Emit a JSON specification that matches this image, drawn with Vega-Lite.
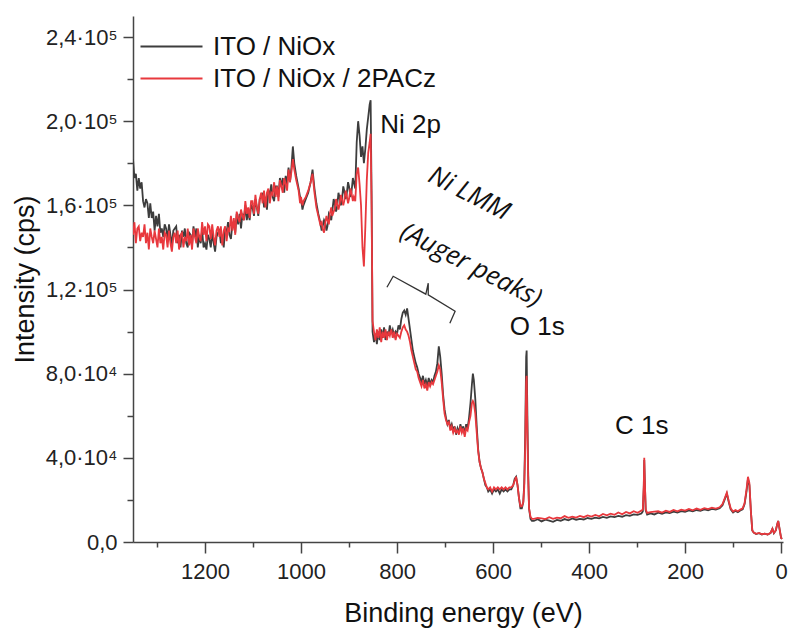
{
"$schema": "https://vega.github.io/schema/vega-lite/v6.json",
"width": 650, "height": 526,
"autosize": {"type": "none"},
"padding": {"left": 133, "top": 16, "right": 9, "bottom": 86},
"background": "white",
"config": {"view": {"stroke": null}, "font": "Liberation Sans",
 "axis": {"domainColor": "#444", "domainWidth": 1.5, "tickColor": "#444", "tickWidth": 1.5, "labelFont": "Liberation Sans", "labelFontSize": 22, "labelColor": "#222", "titleFont": "Liberation Sans", "titleFontSize": 27, "titleFontWeight": "normal", "titleColor": "#111", "grid": false}},
"datasets": {
"xps": [
{"E":1350,"a":182000,"b":146000},{"E":1347,"a":173000,"b":152000},{"E":1344,"a":175000,"b":142000},{"E":1341,"a":167000,"b":149000},{"E":1338,"a":173000,"b":150000},{"E":1335,"a":168000,"b":143000},{"E":1332,"a":171000,"b":147000},{"E":1329,"a":162000,"b":145000},{"E":1326,"a":159000,"b":151000},{"E":1323,"a":163000,"b":142000},{"E":1320,"a":161000,"b":147000},{"E":1317,"a":154000,"b":139000},{"E":1314,"a":161000,"b":149000},{"E":1311,"a":154000,"b":145000},{"E":1308,"a":157000,"b":142000},{"E":1305,"a":148000,"b":148000},{"E":1302,"a":155000,"b":144000},{"E":1299,"a":150000,"b":140000},{"E":1296,"a":156000,"b":149000},{"E":1293,"a":147000,"b":142000},{"E":1290,"a":149000,"b":145000},{"E":1287,"a":145000,"b":139000},{"E":1284,"a":151000,"b":147000},{"E":1281,"a":149000,"b":146000},{"E":1278,"a":144000,"b":140000},{"E":1275,"a":151000,"b":148000},{"E":1272,"a":146000,"b":142000},{"E":1269,"a":141000,"b":138000},{"E":1266,"a":148000,"b":145000},{"E":1263,"a":149000,"b":147000},
{"E":1260,"a":150000,"b":142000},{"E":1257,"a":142000,"b":148000},{"E":1254,"a":146000,"b":139000},{"E":1251,"a":140000,"b":146000},{"E":1248,"a":148000,"b":147000},{"E":1245,"a":145000,"b":140000},{"E":1242,"a":149000,"b":145000},{"E":1239,"a":142000,"b":143000},{"E":1236,"a":140000,"b":149000},{"E":1233,"a":147000,"b":141000},{"E":1230,"a":146000,"b":146000},{"E":1227,"a":141000,"b":139000},{"E":1224,"a":150000,"b":149000},{"E":1221,"a":145000,"b":145000},{"E":1218,"a":149000,"b":142000},{"E":1215,"a":140000,"b":149000},{"E":1212,"a":146000,"b":145000},{"E":1209,"a":142000,"b":143000},{"E":1206,"a":148000,"b":152000},{"E":1203,"a":140000,"b":146000},{"E":1200,"a":142000,"b":150000},{"E":1197,"a":139000,"b":143000},{"E":1194,"a":146000,"b":151000},{"E":1191,"a":144000,"b":150000},{"E":1188,"a":140000,"b":144000},{"E":1185,"a":147000,"b":151000},{"E":1182,"a":142000,"b":145000},{"E":1179,"a":138000,"b":141000},{"E":1176,"a":145000,"b":148000},{"E":1173,"a":147000,"b":150000},
{"E":1170,"a":148000,"b":145000},{"E":1167,"a":142000,"b":150000},{"E":1164,"a":146000,"b":141000},{"E":1161,"a":140000,"b":148000},{"E":1158,"a":149000,"b":150000},{"E":1155,"a":147000,"b":143000},{"E":1152,"a":152000,"b":149000},{"E":1149,"a":146000,"b":148000},{"E":1146,"a":144000,"b":155000},{"E":1143,"a":151000,"b":148000},{"E":1140,"a":151000,"b":154000},{"E":1137,"a":147000,"b":146000},{"E":1134,"a":156000,"b":157000},{"E":1131,"a":151000,"b":154000},{"E":1128,"a":156000,"b":152000},{"E":1125,"a":149000,"b":158000},{"E":1122,"a":156000,"b":155000},{"E":1119,"a":153000,"b":153000},{"E":1116,"a":160000,"b":162000},{"E":1113,"a":153000,"b":156000},{"E":1110,"a":157000,"b":159000},{"E":1107,"a":153000,"b":154000},{"E":1104,"a":160000,"b":162000},{"E":1101,"a":159000,"b":162000},{"E":1098,"a":155000,"b":156000},{"E":1095,"a":163000,"b":165000},{"E":1092,"a":159000,"b":159000},{"E":1089,"a":155000,"b":156000},{"E":1086,"a":163000,"b":163000},{"E":1083,"a":164000,"b":166000},
{"E":1080,"a":166000,"b":161000},{"E":1077,"a":159000,"b":167000},{"E":1074,"a":164000,"b":159000},{"E":1071,"a":158000,"b":166000},{"E":1068,"a":167000,"b":168000},{"E":1065,"a":165000,"b":161000},{"E":1062,"a":170000,"b":166000},{"E":1059,"a":164000,"b":165000},{"E":1056,"a":162000,"b":171000},{"E":1053,"a":169000,"b":164000},{"E":1050,"a":169000,"b":169000},{"E":1047,"a":164000,"b":162000},{"E":1044,"a":173000,"b":172000},{"E":1041,"a":169000,"b":169000},{"E":1038,"a":173000,"b":166000},{"E":1035,"a":166000,"b":173000},{"E":1032,"a":174000,"b":170000},{"E":1029,"a":170000,"b":167000},{"E":1026,"a":178000,"b":177000},{"E":1023,"a":171000,"b":171000},
{"E":1020,"a":178000,"b":176000},{"E":1017,"a":188000,"b":182000},{"E":1014,"a":180000,"b":177000},{"E":1010,"a":174000,"b":172000},{"E":1005,"a":168000,"b":167000},{"E":1002,"a":164000,"b":161000},{"E":1000,"a":163000,"b":164000},{"E":997,"a":158000,"b":160000},{"E":995,"a":160000,"b":162000},{"E":990,"a":163000,"b":164000},{"E":985,"a":166000,"b":167000},{"E":980,"a":171000,"b":171000},{"E":976,"a":177000,"b":175000},{"E":972,"a":168000,"b":166000},{"E":968,"a":161000,"b":159000},{"E":964,"a":156000,"b":155000},{"E":960,"a":152000,"b":151000},{"E":957,"a":148000,"b":152000},{"E":955,"a":150000,"b":149000},{"E":952,"a":153000,"b":147000},{"E":950,"a":152000,"b":151000},{"E":947,"a":148000,"b":155000},{"E":945,"a":150000,"b":153000},{"E":942,"a":156000,"b":151000},{"E":940,"a":155000,"b":156000},{"E":937,"a":153000,"b":159000},{"E":935,"a":157000,"b":155000},{"E":932,"a":163000,"b":157000},{"E":930,"a":161000,"b":158000},{"E":927,"a":157000,"b":163000},{"E":925,"a":159000,"b":161000},{"E":922,"a":166000,"b":158000},{"E":920,"a":164000,"b":160000},{"E":917,"a":160000,"b":165000},{"E":915,"a":162000,"b":163000},{"E":912,"a":169000,"b":160000},{"E":910,"a":167000,"b":162000},{"E":907,"a":163000,"b":167000},{"E":905,"a":165000,"b":165000},{"E":902,"a":171000,"b":161000},{"E":900,"a":169000,"b":163000},{"E":897,"a":164000,"b":168000},{"E":895,"a":166000,"b":166000},{"E":892,"a":173000,"b":162000},{"E":890,"a":171000,"b":164000},{"E":887,"a":168000,"b":162000},{"E":884,"a":190000,"b":175000},{"E":881,"a":200000,"b":178000},{"E":878,"a":193000,"b":170000},{"E":875,"a":183000,"b":160000},{"E":872,"a":188000,"b":140000},{"E":869,"a":180000,"b":131000},{"E":866,"a":187000,"b":150000},{"E":863,"a":196000,"b":172000},{"E":860,"a":202000,"b":185000},{"E":857,"a":208000,"b":190000},{"E":855,"a":210000,"b":194000},{"E":853,"a":165000,"b":160000},{"E":851,"a":100000,"b":105000},
{"E":848,"a":95000,"b":100000},{"E":845,"a":99000,"b":96000},{"E":842,"a":94000,"b":101000},{"E":839,"a":100000,"b":97000},{"E":836,"a":96000,"b":102000},{"E":833,"a":101000,"b":95000},{"E":830,"a":97000,"b":100000},{"E":827,"a":102000,"b":97000},{"E":824,"a":96000,"b":101000},{"E":821,"a":100000,"b":96000},{"E":818,"a":98000,"b":100000},{"E":815,"a":103000,"b":98000},{"E":812,"a":99000,"b":101000},{"E":809,"a":101000,"b":97000},{"E":806,"a":98000,"b":100000},{"E":803,"a":100000,"b":96000},{"E":800,"a":99000,"b":99000},{"E":797,"a":103000,"b":98000},{"E":794,"a":101000,"b":97000},{"E":791,"a":106000,"b":100000},{"E":788,"a":109000,"b":102000},{"E":785,"a":110000,"b":103000},{"E":782,"a":108000,"b":101000},{"E":779,"a":111000,"b":100000},{"E":776,"a":106000,"b":98000},{"E":773,"a":101000,"b":95000},{"E":770,"a":96000,"b":91000},{"E":767,"a":91000,"b":88000},{"E":764,"a":88000,"b":85000},{"E":761,"a":85000,"b":82000},{"E":758,"a":83000,"b":81000},{"E":755,"a":80000,"b":78000},{"E":752,"a":78000,"b":76000},{"E":749,"a":76000,"b":74000},{"E":746,"a":79000,"b":77000},{"E":743,"a":75000,"b":73000},{"E":740,"a":77000,"b":75000},{"E":737,"a":74000,"b":72000},{"E":734,"a":78000,"b":76000},{"E":731,"a":75000,"b":74000},{"E":728,"a":77000,"b":76000},{"E":725,"a":76000,"b":75000},{"E":722,"a":79000,"b":77000},{"E":719,"a":81000,"b":79000},{"E":716,"a":85000,"b":81000},{"E":713,"a":93000,"b":84000},{"E":710,"a":88000,"b":82000},{"E":707,"a":80000,"b":76000},{"E":704,"a":70000,"b":68000},{"E":701,"a":63000,"b":61000},{"E":698,"a":59000,"b":58000},{"E":695,"a":56000,"b":56000},{"E":692,"a":58000,"b":57000},{"E":689,"a":54000,"b":53000},{"E":686,"a":56000,"b":55000},{"E":683,"a":53000,"b":52000},{"E":680,"a":55000,"b":54000},{"E":677,"a":51000,"b":52000},{"E":674,"a":54000,"b":53000},{"E":671,"a":52000,"b":51000},{"E":668,"a":56000,"b":55000},{"E":665,"a":53000,"b":52000},{"E":662,"a":55000,"b":54000},{"E":659,"a":51000,"b":50000},{"E":656,"a":56000,"b":54000},{"E":653,"a":54000,"b":53000},{"E":650,"a":59000,"b":57000},{"E":647,"a":66000,"b":60000},{"E":644,"a":75000,"b":66000},{"E":642,"a":80000,"b":67000},{"E":640,"a":77000,"b":66000},{"E":637,"a":68000,"b":61000},{"E":634,"a":55000,"b":52000},{"E":631,"a":44000,"b":43000},{"E":628,"a":38000,"b":38000},{"E":625,"a":35000,"b":35000},{"E":622,"a":33000,"b":33000},{"E":619,"a":30000,"b":30000},{"E":616,"a":27000,"b":28000},{"E":613,"a":26000,"b":26000},{"E":610,"a":24000,"b":25000},{"E":606,"a":25000,"b":26000},{"E":602,"a":23000,"b":24000},{"E":598,"a":25000,"b":26000},{"E":594,"a":24000,"b":25000},{"E":590,"a":25000,"b":26000},{"E":586,"a":23000,"b":25000},{"E":582,"a":25000,"b":26000},{"E":578,"a":24000,"b":25000},{"E":574,"a":25000,"b":26000},{"E":570,"a":24000,"b":25000},{"E":566,"a":25000,"b":26000},{"E":562,"a":25000,"b":26000},{"E":558,"a":27000,"b":27000},{"E":555,"a":30000,"b":29000},{"E":552,"a":31000,"b":31000},{"E":549,"a":27000,"b":27000},{"E":546,"a":21000,"b":21000},{"E":543,"a":16000,"b":17000},{"E":540,"a":16000,"b":17000},{"E":537,"a":19000,"b":19000},{"E":535,"a":28000,"b":26000},{"E":533,"a":50000,"b":45000},{"E":531,"a":88000,"b":76000},{"E":530,"a":91000,"b":79000},{"E":529,"a":70000,"b":60000},{"E":527,"a":35000,"b":32000},{"E":525,"a":16000,"b":16000},{"E":522,"a":11000,"b":12000},{"E":519,"a":10000,"b":11000},
{"E":515,"a":10000,"b":11000},{"E":507,"a":10800,"b":11500},{"E":499,"a":9800,"b":11200},{"E":491,"a":10600,"b":10900},{"E":483,"a":10200,"b":11800},{"E":475,"a":9600,"b":11000},{"E":467,"a":10500,"b":11600},{"E":459,"a":10100,"b":11300},{"E":451,"a":10900,"b":12300},{"E":443,"a":10300,"b":11500},{"E":435,"a":11200,"b":12000},{"E":427,"a":10600,"b":11600},{"E":419,"a":11000,"b":12400},{"E":411,"a":10700,"b":11800},{"E":403,"a":11400,"b":12600},{"E":395,"a":11000,"b":12100},{"E":387,"a":11600,"b":12900},{"E":379,"a":11200,"b":12200},{"E":371,"a":11900,"b":13300},{"E":363,"a":11500,"b":12700},{"E":355,"a":12200,"b":13500},{"E":347,"a":11800,"b":12900},{"E":339,"a":12400,"b":14000},{"E":331,"a":12000,"b":13200},{"E":323,"a":12800,"b":14300},{"E":315,"a":12400,"b":13600},{"E":307,"a":13100,"b":14600},{"E":299,"a":12900,"b":13900},{"E":291,"a":13500,"b":14900},{"E":288,"a":14500,"b":15500},{"E":286,"a":26000,"b":27000},{"E":285,"a":39000,"b":40000},{"E":284,"a":30000,"b":30000},{"E":282,"a":15000,"b":15500},{"E":279,"a":13000,"b":13800},
{"E":272,"a":13600,"b":14200},{"E":264,"a":13100,"b":14400},{"E":256,"a":13900,"b":14600},{"E":248,"a":13400,"b":14000},{"E":240,"a":14100,"b":14900},{"E":232,"a":13700,"b":14300},{"E":224,"a":14400,"b":15200},{"E":216,"a":14000,"b":14600},{"E":208,"a":14700,"b":15400},{"E":200,"a":14300,"b":14900},{"E":192,"a":15000,"b":15700},{"E":184,"a":14600,"b":15100},{"E":176,"a":15200,"b":15900},{"E":168,"a":14800,"b":15300},{"E":160,"a":15500,"b":16100},{"E":152,"a":15100,"b":15600},{"E":144,"a":15700,"b":16300},{"E":136,"a":15400,"b":15900},{"E":128,"a":16000,"b":16500},{"E":122,"a":17500,"b":18000},{"E":117,"a":20500,"b":21000},{"E":113,"a":23000,"b":23500},{"E":109,"a":19000,"b":19500},{"E":105,"a":15500,"b":16000},{"E":100,"a":14000,"b":14500},{"E":95,"a":14800,"b":15200},{"E":90,"a":14200,"b":14600},{"E":85,"a":15000,"b":15400},{"E":80,"a":15500,"b":16000},{"E":76,"a":18000,"b":18500},{"E":72,"a":24000,"b":25000},{"E":69,"a":30000,"b":31000},{"E":66,"a":27000,"b":28000},{"E":63,"a":15000,"b":15000},{"E":60,"a":5500,"b":5500},{"E":57,"a":4500,"b":4500},{"E":52,"a":3800,"b":3900},{"E":46,"a":4200,"b":4300},{"E":40,"a":3600,"b":3700},{"E":34,"a":4000,"b":4000},{"E":28,"a":3500,"b":3600},{"E":22,"a":4200,"b":4300},{"E":18,"a":6300,"b":6300},{"E":15,"a":4200,"b":4300},{"E":11,"a":5500,"b":5500},{"E":8,"a":8500,"b":8500},{"E":6,"a":10000,"b":10000},{"E":3,"a":6000,"b":6000},{"E":0,"a":2000,"b":2000},{"E":-2,"a":1500,"b":1500}
],
"lab": [
{"E":835,"I":194400,"t":"Ni 2p"},
{"E":565,"I":98200,"t":"O 1s"},
{"E":346,"I":51100,"t":"C 1s"}
],
"auger": [
{"E":650,"I":165600,"t":"Ni LMM"},
{"E":646,"I":131600,"t":"(Auger peaks)"}
],
"br": [
{"k":1,"E":821,"I":121100},
{"k":2,"E":808,"I":126300},
{"k":3,"E":740,"I":117800},
{"k":4,"E":735,"I":123000},
{"k":5,"E":735,"I":117500},
{"k":6,"E":679,"I":109700},
{"k":7,"E":690,"I":104000}
]
},
"layer": [
{"data": {"name": "xps"},
 "transform": [{"fold": ["a", "b"], "as": ["s", "I"]}],
 "mark": {"type": "line", "strokeWidth": 1.8, "clip": true},
 "encoding": {
  "x": {"field": "E", "type": "quantitative",
   "scale": {"domain": [-4, 1350], "reverse": true, "nice": false, "zero": false},
   "axis": {"title": "Binding energy (eV)", "format": "d",
    "values": [0,100,200,300,400,500,600,700,800,900,1000,1100,1200,1300],
    "labelExpr": "datum.value % 200 == 0 ? datum.label : ''",
    "tickSize": {"condition": {"test": "datum.value % 200 == 0", "value": 11}, "value": 5},
    "labelPadding": 8, "labelFlush": false, "labelOverlap": false,
    "titleX": 330, "titleY": 79, "titleAlign": "center", "titleBaseline": "alphabetic"}},
  "y": {"field": "I", "type": "quantitative",
   "scale": {"domain": [0, 250000], "nice": false},
   "axis": {"title": "Intensity (cps)",
    "values": [0,20000,40000,60000,80000,100000,120000,140000,160000,180000,200000,220000,240000],
    "labelExpr": "datum.value == 0 ? '0,0' : (datum.value % 40000 != 0 ? '' : (datum.value >= 100000 ? replace(format(datum.value/100000, '.1f'), '.', ',') + '·10⁵' : replace(format(datum.value/10000, '.1f'), '.', ',') + '·10⁴'))",
    "tickSize": {"condition": {"test": "datum.value % 40000 == 0", "value": 10}, "value": 6},
    "labelPadding": 6, "labelOverlap": false, "labelFlush": false,
    "titleX": -100, "titleY": 263, "titleAngle": -90, "titleAlign": "center", "titleBaseline": "alphabetic"}},
  "color": {"field": "s", "type": "nominal",
   "scale": {"domain": ["a", "b"], "range": ["#3d3d3d", "#e8383d"]},
   "legend": {"orient": "none", "legendX": 22, "legendY": 14, "title": null,
    "symbolType": "M-2,0H2", "symbolSize": 961, "symbolStrokeWidth": 2,
    "labelFont": "Liberation Sans", "labelFontSize": 26, "labelColor": "#111", "labelOffset": 25, "labelLimit": 500,
    "rowPadding": 2, "padding": 0,
    "labelExpr": "datum.label == 'a' ? 'ITO / NiOx' : 'ITO / NiOx / 2PACz'"}}
 }},
{"data": {"name": "br"},
 "mark": {"type": "line", "stroke": "#333", "strokeWidth": 1.3},
 "encoding": {"x": {"field": "E", "type": "quantitative"}, "y": {"field": "I", "type": "quantitative"}, "order": {"field": "k", "type": "quantitative"}}},
{"data": {"name": "lab"},
 "mark": {"type": "text", "align": "left", "baseline": "alphabetic", "font": "Liberation Sans", "fontSize": 26, "color": "#111"},
 "encoding": {"x": {"field": "E", "type": "quantitative"}, "y": {"field": "I", "type": "quantitative"}, "text": {"field": "t"}}},
{"data": {"name": "auger"},
 "mark": {"type": "text", "align": "center", "baseline": "middle", "angle": 27, "font": "Open Sans", "fontStyle": "italic", "fontSize": 26, "color": "#111"},
 "encoding": {"x": {"field": "E", "type": "quantitative"}, "y": {"field": "I", "type": "quantitative"}, "text": {"field": "t"}}}
]
}
